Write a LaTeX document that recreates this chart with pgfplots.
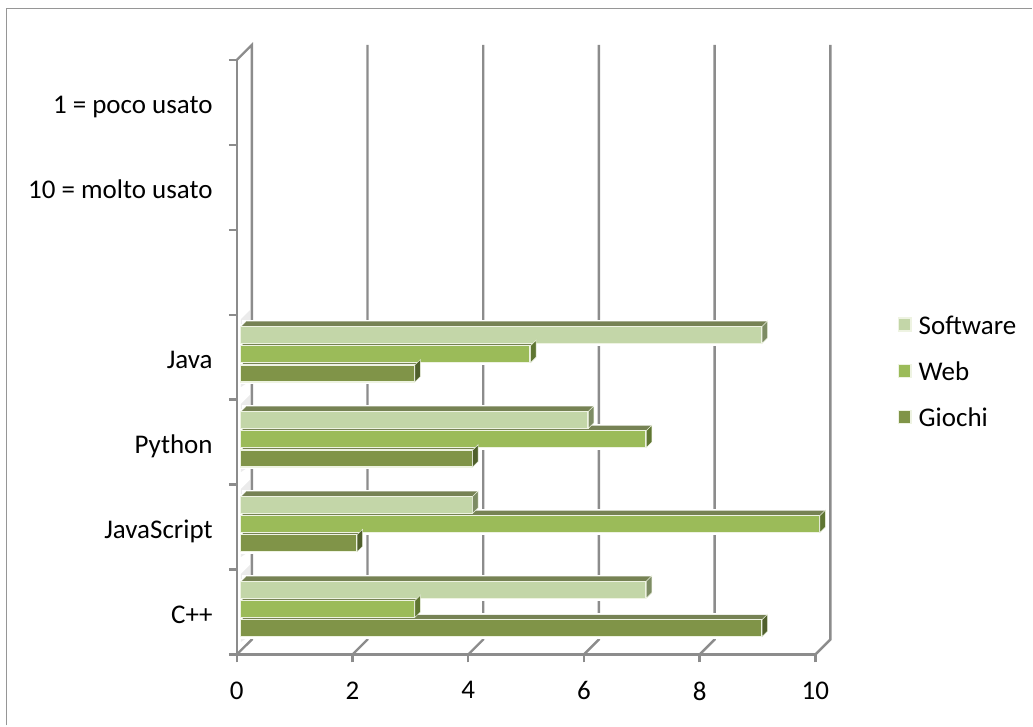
\documentclass[border=0pt]{standalone}
\usepackage{pgfplots}
\usepackage{pgfplotstable}
\usepackage{fontspec}
\setmainfont{Carlito}
\pgfplotsset{compat=1.18}
\definecolor{axisgray}{RGB}{140,140,140}
\definecolor{framegray}{RGB}{150,150,150}
\definecolor{softc}{RGB}{195,214,168}
\definecolor{webc}{RGB}{155,187,89}
\definecolor{gioc}{RGB}{128,148,72}
\definecolor{softside}{RGB}{125,140,100}
\definecolor{webside}{RGB}{95,118,50}
\definecolor{gioside}{RGB}{80,96,44}
\definecolor{topstrip}{RGB}{118,130,84}
\definecolor{edge}{RGB}{238,243,226}
\pgfplotstableread{
cat val
0.5 7
1.5 4
2.5 6
3.5 9
}\software
\pgfplotstableread{
cat val
0.5 3
1.5 10
2.5 7
3.5 5
}\web
\pgfplotstableread{
cat val
0.5 9
1.5 2
2.5 4
3.5 3
}\giochi
\pgfdeclareplotmark{barside}{%
  \pgfpathmoveto{\pgfqpoint{0.5pt}{-8.5pt}}%
  \pgfpathlineto{\pgfqpoint{6pt}{-3pt}}%
  \pgfpathlineto{\pgfqpoint{6pt}{14pt}}%
  \pgfpathlineto{\pgfqpoint{0.5pt}{8.5pt}}%
  \pgfpathclose\pgfusepathqfillstroke}
\pgfplotsset{
  sq/.style={legend image code/.code={\fill[##1] (0pt,-8pt) rectangle (13pt,5pt);}},
  fr/.style={xbar, bar width=17pt, bar shift=0pt, draw=edge, line width=1.2pt, xshift=4pt, yshift=3pt, sq},
  hl/.style={xbar, bar width=17pt, bar shift=0pt, draw=white, fill=white, line width=5pt, forget plot},
  st/.style={xbar, bar width=17pt, bar shift=0pt, draw=none, fill=topstrip, forget plot},
  sd/.style={only marks, mark=barside, xshift=4pt, yshift=3pt, forget plot},
}
\begin{document}
\begin{tikzpicture}
\begin{axis}[
  scale only axis, width=579pt, height=595pt,
  xmin=0, xmax=10, ymin=0, ymax=7,
  clip=false, axis lines=left,
  axis line style={-, draw=axisgray, line width=2.4pt},
  tick align=outside,
  xtick={0,2,4,6,8,10},
  major tick length=8pt,
  minor tick length=8pt,
  ytick={0.5,1.5,2.5,3.5,4.5,5.5,6.5},
  yticklabels={C++,JavaScript,Python,Java,,10 = molto usato,1 = poco usato},
  minor ytick={0,1,2,3,4,5,6,7},
  major x tick style={draw=axisgray, line width=2.4pt},
  minor y tick style={draw=axisgray, line width=2.4pt},
  major y tick style={draw=none},
  yticklabel style={font=\fontsize{27}{29}\selectfont, inner sep=0pt, text height=14pt, text depth=5pt, xshift=-16pt, yshift=-6.5pt},
  xticklabel style={font=\fontsize{27}{29}\selectfont, inner sep=0pt, yshift=-19pt},
  /pgf/number format/assume math mode=true,
  legend style={at={(axis cs:0,0)}, anchor=south west, xshift=661pt, yshift=224pt,
    draw=none, fill=none, font=\fontsize{27}{29}\selectfont,
    row sep=22pt, inner sep=0pt, cells={anchor=west},
    /tikz/every odd column/.append style={column sep=5pt}},
]
% picture size and frame
\path (axis cs:0,0) ++(-237pt,-71pt) rectangle ++(1033pt,726pt);
\draw[color=framegray, line width=1.6pt] (axis cs:0,0) ++(-230.5pt,-71pt) -- ++(0pt,717.5pt) -- ++(1026.5pt,0pt);
% walls and gridlines
\draw[axisgray, line width=2.4pt] (axis cs:0,7) -- ++(15pt,15pt) -- ++(0pt,-595pt) -- (axis cs:0,0);
\pgfplotsinvokeforeach{2,4,6,8,10}{
  \draw[axisgray, line width=2.4pt] (axis cs:#1,0) -- ++(15pt,15pt) -- ++(0pt,595pt);
}
% wall shading
\pgfplotsinvokeforeach{0.5,1.5,2.5,3.5}{
  \fill[gray!16] (axis cs:0,#1) ++(4pt,-30pt) -- ++(9pt,6pt) -- ++(0pt,71pt) -- ++(-9pt,-9pt) -- cycle;
}
% halos
\addplot[hl, xshift=8pt, yshift=7pt] table[x=val, y expr=\thisrow{cat}+0.227] {\software};
\addplot[hl, xshift=8pt, yshift=7pt] table[x=val, y=cat] {\web};
\addplot[hl, xshift=8pt, yshift=7pt] table[x=val, y expr=\thisrow{cat}-0.227] {\giochi};
\addplot[hl, xshift=4pt, yshift=3pt] table[x=val, y expr=\thisrow{cat}+0.227] {\software};
\addplot[hl, xshift=4pt, yshift=3pt] table[x=val, y=cat] {\web};
\addplot[hl, xshift=4pt, yshift=3pt] table[x=val, y expr=\thisrow{cat}-0.227] {\giochi};
% top strips (extrusion)
\pgfplotsinvokeforeach{9,8,7,6,5}{
  \addplot[st, xshift=#1pt, yshift=#1pt-1pt] table[x=val, y expr=\thisrow{cat}+0.227] {\software};
  \addplot[st, xshift=#1pt, yshift=#1pt-1pt] table[x=val, y=cat] {\web};
  \addplot[st, xshift=#1pt, yshift=#1pt-1pt] table[x=val, y expr=\thisrow{cat}-0.227] {\giochi};
}
% side faces
\addplot[sd, mark options={fill=softside, draw=edge, line width=0.5pt}] table[x=val, y expr=\thisrow{cat}+0.227] {\software};
\addplot[sd, mark options={fill=webside, draw=edge, line width=0.5pt}] table[x=val, y=cat] {\web};
\addplot[sd, mark options={fill=gioside, draw=edge, line width=0.5pt}] table[x=val, y expr=\thisrow{cat}-0.227] {\giochi};
% front faces
\addplot[fr, fill=softc] table[x=val, y expr=\thisrow{cat}+0.227] {\software};
\addplot[fr, fill=webc] table[x=val, y=cat] {\web};
\addplot[fr, fill=gioc] table[x=val, y expr=\thisrow{cat}-0.227] {\giochi};
\legend{Software,Web,Giochi}
\end{axis}
\end{tikzpicture}
\end{document}
